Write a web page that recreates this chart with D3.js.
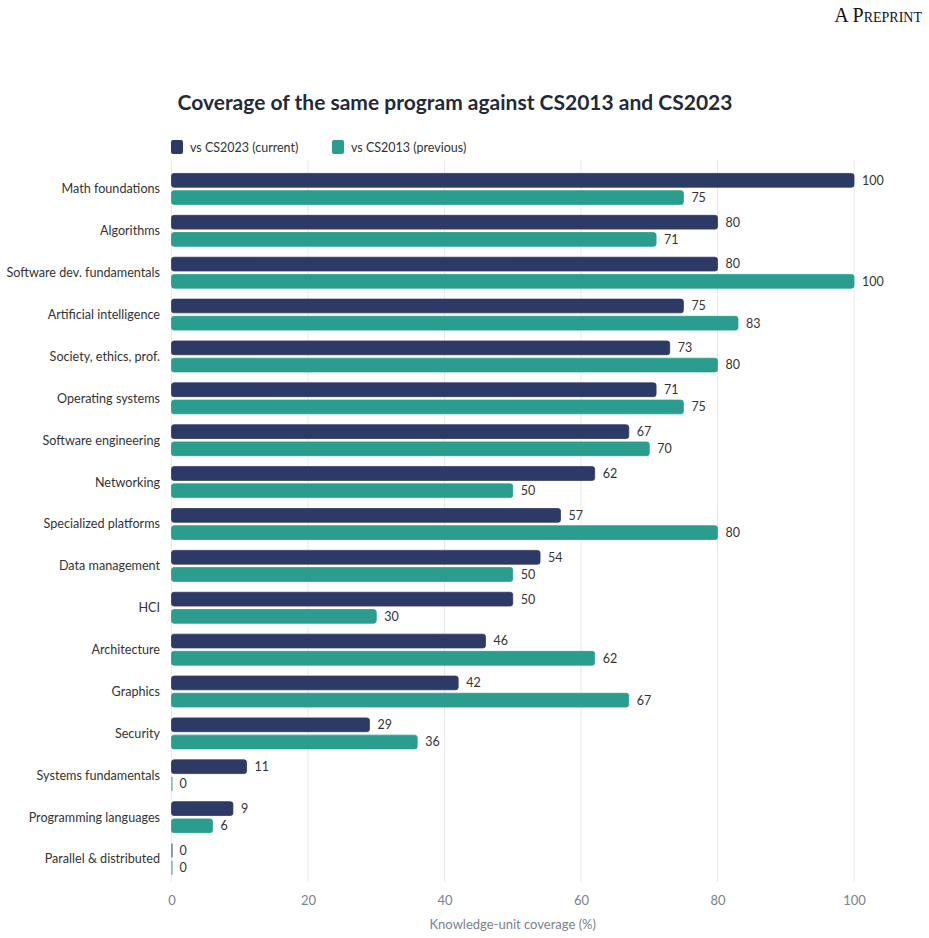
<!DOCTYPE html>
<html>
<head>
<meta charset="utf-8">
<script src="https://cdn.jsdelivr.net/npm/d3@7"></script>
<style>
  body { margin: 0; background: #fff; }
  svg { font-family: Lato, "Open Sans", sans-serif; }
</style>
</head>
<body>
<svg id="chart"></svg>
<script>
const categories = [
    "Math foundations", "Algorithms", "Software dev. fundamentals", "Artificial intelligence",
    "Society, ethics, prof.", "Operating systems", "Software engineering", "Networking",
    "Specialized platforms", "Data management", "HCI", "Architecture", "Graphics",
    "Security", "Systems fundamentals", "Programming languages", "Parallel & distributed"
];
const current = [100, 80, 80, 75, 73, 71, 67, 62, 57, 54, 50, 46, 42, 29, 11, 9, 0];
const previous = [75, 71, 100, 83, 80, 75, 70, 50, 80, 50, 30, 62, 67, 36, 0, 6, 0];
const seriesNames = ["vs CS2023 (current)", "vs CS2013 (previous)"];
const ticks = [0, 20, 40, 60, 80, 100];

const width = 929, height = 938;
const margin = { top: 168, right: 75, bottom: 58, left: 171.5 };

const svg = d3.select("#chart").attr("width", width).attr("height", height);

const colors = d3.scaleOrdinal().domain(seriesNames).range(["#2d3a66", "#2a9d8f"]);

const x = d3.scaleLinear().domain([0, 100]).range([margin.left, 854]);
const y = d3.scaleBand().domain(categories).range([margin.top, height - margin.bottom]).paddingInner(0.26).paddingOuter(0.13);
const ySub = d3.scaleBand().domain(seriesNames).range([0, y.bandwidth()]).paddingInner(0.2);

// header
svg.append("text")
    .attr("x", 922).attr("y", 22)
    .attr("text-anchor", "end")
    .attr("font-family", "'Liberation Serif', 'DejaVu Serif', serif")
    .attr("font-size", "20px")
    .attr("font-variant", "small-caps")
    .attr("fill", "#111")
    .text("A Preprint");

svg.append("text")
    .attr("x", 455).attr("y", 110)
    .attr("text-anchor", "middle")
    .attr("font-size", "21px")
    .attr("font-weight", "bold")
    .attr("fill", "#1f2a3a")
    .text("Coverage of the same program against CS2013 and CS2023");

// legend
const legend = svg.append("g");
const legendX = [171, 332];
seriesNames.forEach((s, i) => {
    const g = legend.append("g").attr("transform", `translate(${legendX[i]}, 140)`);
    g.append("rect").attr("width", 12).attr("height", 14).attr("rx", 2).attr("fill", colors(s));
    g.append("text").attr("x", 19).attr("y", 11.5).attr("font-size", "12.5px").attr("fill", "#333").text(s);
});

// grid
svg.append("g").selectAll("line")
    .data(ticks)
    .join("line")
    .attr("x1", d => x(d)).attr("x2", d => x(d))
    .attr("y1", 160).attr("y2", 882)
    .attr("stroke", "#e6e8eb").attr("stroke-width", 1);

// bars
const rows = categories.map((c, i) => ({ c, vals: [current[i], previous[i]] }));
const groups = svg.append("g").selectAll("g")
    .data(rows)
    .join("g")
    .attr("transform", d => `translate(0, ${y(d.c)})`);

groups.selectAll("rect")
    .data(d => d.vals.map((v, i) => ({ s: seriesNames[i], v })))
    .join("rect")
    .attr("x", x(0))
    .attr("y", d => ySub(d.s))
    .attr("width", d => Math.max(1, x(d.v) - x(0)))
    .attr("height", ySub.bandwidth())
    .attr("rx", d => d.v > 0 ? 2.5 : 0)
    .attr("fill", d => colors(d.s))
    .attr("stroke", d => d.v > 0 ? colors(d.s) : "none")
    .attr("stroke-width", 0.8);

groups.selectAll("text.val")
    .data(d => d.vals.map((v, i) => ({ s: seriesNames[i], v })))
    .join("text")
    .attr("class", "val")
    .attr("x", d => x(d.v) + 8)
    .attr("y", d => ySub(d.s) + ySub.bandwidth() / 2)
    .attr("dy", "0.35em")
    .attr("font-size", "12.5px")
    .attr("fill", "#333")
    .text(d => d.v);

// y axis labels
svg.append("g").selectAll("text")
    .data(categories)
    .join("text")
    .attr("x", 160)
    .attr("y", d => y(d) + y.bandwidth() / 2)
    .attr("dy", "0.35em")
    .attr("text-anchor", "end")
    .attr("font-size", "12.6px")
    .attr("fill", "#333")
    .text(d => d);

// x axis
const xAxis = svg.append("g")
    .attr("transform", `translate(0, 891)`)
    .call(d3.axisBottom(x).tickValues(ticks).tickSize(0).tickPadding(5));
xAxis.select(".domain").remove();
xAxis.selectAll("text").attr("font-family", "Lato, sans-serif").attr("font-size", "13px").attr("fill", "#7a8190");

svg.append("text")
    .attr("x", x(50)).attr("y", 929)
    .attr("text-anchor", "middle")
    .attr("font-size", "13px")
    .attr("fill", "#7a8190")
    .text("Knowledge-unit coverage (%)");
</script>
</body>
</html>
